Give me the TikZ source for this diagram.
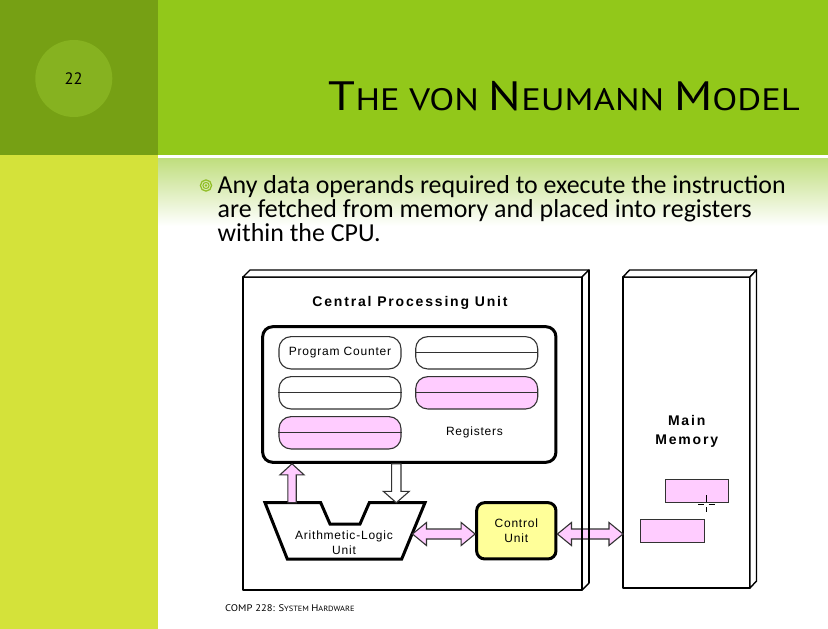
\documentclass[tikz,border=0pt]{standalone}
\usepackage{fontspec}
\usetikzlibrary{calc}
\setmainfont{Carlito}
\newfontfamily\titlefont{PT Sans}
\newfontfamily\diagfont[LetterSpace=6.5]{Liberation Sans}
\newfontfamily\diagbold[LetterSpace=13]{Liberation Sans Bold}

\definecolor{leafdark}{RGB}{118,160,20}
\definecolor{leafdisc}{RGB}{134,178,32}
\definecolor{leafbar}{RGB}{146,200,26}
\definecolor{leafstrip}{RGB}{212,226,58}
\definecolor{leafpale}{RGB}{192,222,126}
\definecolor{bulletgreen}{RGB}{146,190,40}
\definecolor{regpink}{RGB}{255,204,255}
\definecolor{cuyellow}{RGB}{255,255,153}
\definecolor{edgegray}{RGB}{50,50,50}

% fat double-headed horizontal arrow between two points (left tip, right tip)
\newcommand\hbiarrow[2]{%
  \draw[fatarrow] let \p1=#1, \p2=#2 in
    (\x1,\y1) -- (\x1+14pt,\y1+11.5pt) -- (\x1+14pt,\y1+5pt)
    -- (\x2-14pt,\y1+5pt) -- (\x2-14pt,\y1+11.5pt) -- (\x2,\y1)
    -- (\x2-14pt,\y1-11.5pt) -- (\x2-14pt,\y1-5pt)
    -- (\x1+14pt,\y1-5pt) -- (\x1+14pt,\y1-11.5pt) -- cycle;}
% fat vertical arrow: #1 options, #2 tail, #3 tip, #4 half shaft, #5 half head, #6 head length
\newcommand\vfatarrow[6]{%
  \draw[fatarrow,#1] let \p1=#2, \p2=#3, \n1={sign(\y2-\y1)} in
    (\x1-#4,\y1) -- (\x1-#4,\y2-\n1*#6) -- (\x1-#5,\y2-\n1*#6) -- (\x2,\y2)
    -- (\x1+#5,\y2-\n1*#6) -- (\x1+#4,\y2-\n1*#6) -- (\x1+#4,\y1) -- cycle;}
% small-caps imitation for the slide headings: #1 big size, #2 letters
\newcommand\capsup[2]{{\fontsize{#1}{#1}\selectfont #2}}

\tikzset{
  fatarrow/.style={draw=edgegray, line width=1.1pt, fill=regpink, line join=miter},
  box3d/.style={draw=black, line width=1.8pt, fill=white, line join=round},
  boxface/.style={draw=black, line width=1.4pt, fill=white, line join=round},
  pill/.style={draw=edgegray, line width=1.1pt, rounded corners=12pt, fill=white,
    minimum width=122pt, minimum height=32.3pt, inner sep=0pt,
    font=\diagfont\fontsize{12}{13}\selectfont},
  pinkpill/.style={pill, fill=regpink},
  difftext/.style={font=\diagfont\fontsize{12}{15}\selectfont, align=center, inner sep=0pt},
  headtext/.style={font=\diagbold\fontsize{14}{18.8}\selectfont, align=center, inner sep=0pt},
  bodyline/.style={anchor=base west, inner sep=0pt, font=\fontsize{25.9}{26}\selectfont},
}

\begin{document}
\begin{tikzpicture}[x=1pt,y=-1pt]
\useasboundingbox (0,0) rectangle (828,629);
\fill[white] (0,0) rectangle (828,629);

% slide banner
\fill[leafbar] (158,0) rectangle (828,155);
\fill[leafdark] (0,0) rectangle (158,155);
\fill[leafstrip] (0,155) rectangle (158,629);
\fill[white] (158,155) rectangle (828,158.5);
\shade[top color=leafpale, bottom color=white] (158,158.5) rectangle (828,226);
\fill[leafdisc] (73.8,78.5) circle (38.5);
\node[font=\titlefont\fontsize{16.5}{17}\selectfont, inner sep=0pt] (num) at (73.5,78.5) {22};
\node[anchor=base east, inner sep=0pt, font=\titlefont\fontsize{31}{31}\selectfont] (title) at (800,110)
  {\scalebox{1.18}[1]{\capsup{41}{T}HE VON \capsup{41}{N}EUMANN \capsup{41}{M}ODEL}};

% bullet and body text
\draw[bulletgreen, line width=1.3pt] (206,185.5) circle (5.6);
\draw[bulletgreen, line width=1.1pt] (206,185.5) circle (3.1);
\fill[bulletgreen] (206,185.5) circle (1.3);
\node[bodyline] (body1) at (217.5,193.3) {Any data operands required to execute the instruction};
\node[bodyline] (body2) at (217.5,217.5) {are fetched from memory and placed into registers};
\node[bodyline] (body3) at (217.5,241.7) {within the CPU.};

% footer
\node[anchor=base west, inner sep=0pt, font=\titlefont\fontsize{7.6}{8}\selectfont] (foot) at (225,611)
  {\scalebox{1.1}[1]{\capsup{9.6}{COMP 228: S}YSTEM \capsup{9.6}{H}ARDWARE}};

% CPU cabinet
\node[box3d, minimum width=339pt, minimum height=313pt, outer sep=0pt] (cpu) at (412.5,433.5) {};
\draw[boxface] (cpu.north west) -- ++(7,-7) -- ($(cpu.north east)+(7,-7)$) -- (cpu.north east) -- cycle;
\draw[boxface] (cpu.north east) -- ($(cpu.north east)+(7,-7)$) -- ($(cpu.south east)+(7,-7)$) -- (cpu.south east) -- cycle;
\node[headtext] (cputitle) at (410,302.6) {Central Processing Unit};

% main memory cabinet
\node[box3d, minimum width=127pt, minimum height=311pt, outer sep=0pt] (mem) at (686.5,432.5) {};
\draw[boxface] (mem.north west) -- ++(6.5,-7) -- ($(mem.north east)+(6.5,-7)$) -- (mem.north east) -- cycle;
\draw[boxface] (mem.north east) -- ($(mem.north east)+(6.5,-7)$) -- ($(mem.south east)+(6.5,-7)$) -- (mem.south east) -- cycle;
\node[headtext] (memtitle) at (686.7,431.6) {Main\\Memory};
\node[draw=edgegray, line width=0.9pt, fill=regpink, minimum width=63.4pt, minimum height=23.4pt, inner sep=0pt] (word1) at (697,491) {};
\node[draw=edgegray, line width=0.9pt, fill=regpink, minimum width=63.3pt, minimum height=23pt, inner sep=0pt] (word2) at (672.3,530.8) {};

% register file
\node[draw=black, line width=3pt, rounded corners=10pt, fill=white,
      minimum width=293.3pt, minimum height=135.6pt] (regs) at (409.3,394.5) {};
\node[pill] (pc) at (340,352.8) {Program Counter};
\node[pill] (r1) at (476.7,352.8) {};
\node[pill] (r2) at (340,392.8) {};
\node[pinkpill] (r3) at (476.7,392.8) {};
\node[pinkpill] (r4) at (340,432.8) {};
\foreach \r in {r1,r2,r3,r4}
  \draw[edgegray, line width=1.1pt] (\r.west) -- (\r.east);
\node[difftext] (reglabel) at (474.5,432) {Registers};

% arithmetic-logic unit
\draw[black, line width=3pt, line join=miter, fill=white]
  (265,502.7) -- (320.7,502.7) -- (330,524) -- (360,524) -- (369.3,502.7)
  -- (425,502.7) -- (401.7,559) -- (287.3,559) -- cycle;
\coordinate (aluup) at (292,502.7);
\coordinate (aludown) at (396.3,502.7);
\coordinate (aluE) at (412.5,534);
\node[difftext] (alu) at (344,542.3) {Arithmetic-Logic\\Unit};

% control unit
\node[draw=black, line width=3pt, rounded corners=8pt, fill=cuyellow,
      minimum width=79.3pt, minimum height=56.3pt, difftext] (cu) at (516.3,530.8)
  {Control\\Unit};

% data paths
\vfatarrow{}{(aluup)}{(aluup |- regs.south)}{4.2pt}{12pt}{11pt}
\vfatarrow{fill=white}{(aludown |- regs.south)}{(aludown)}{4.7pt}{13pt}{11.4pt}
\hbiarrow{(aluE)}{(cu.west |- aluE)}
\hbiarrow{(cu.east |- aluE)}{(mem.west |- aluE)}
% cabinet side edges stay in front of the memory bus
\draw[black, line width=1.8pt] (cpu.north east) -- (cpu.south east);
\draw[black, line width=1.4pt] ($(cpu.north east)+(7,-7)$) -- ($(cpu.south east)+(7,-7)$);

% pointer
\draw[black, line width=0.8pt] (706,495) -- (706,501.5) (706,507) -- (706,511.7)
  (698.3,504.3) -- (703.5,504.3) (708.5,504.3) -- (715,504.3);
\end{tikzpicture}
\end{document}
